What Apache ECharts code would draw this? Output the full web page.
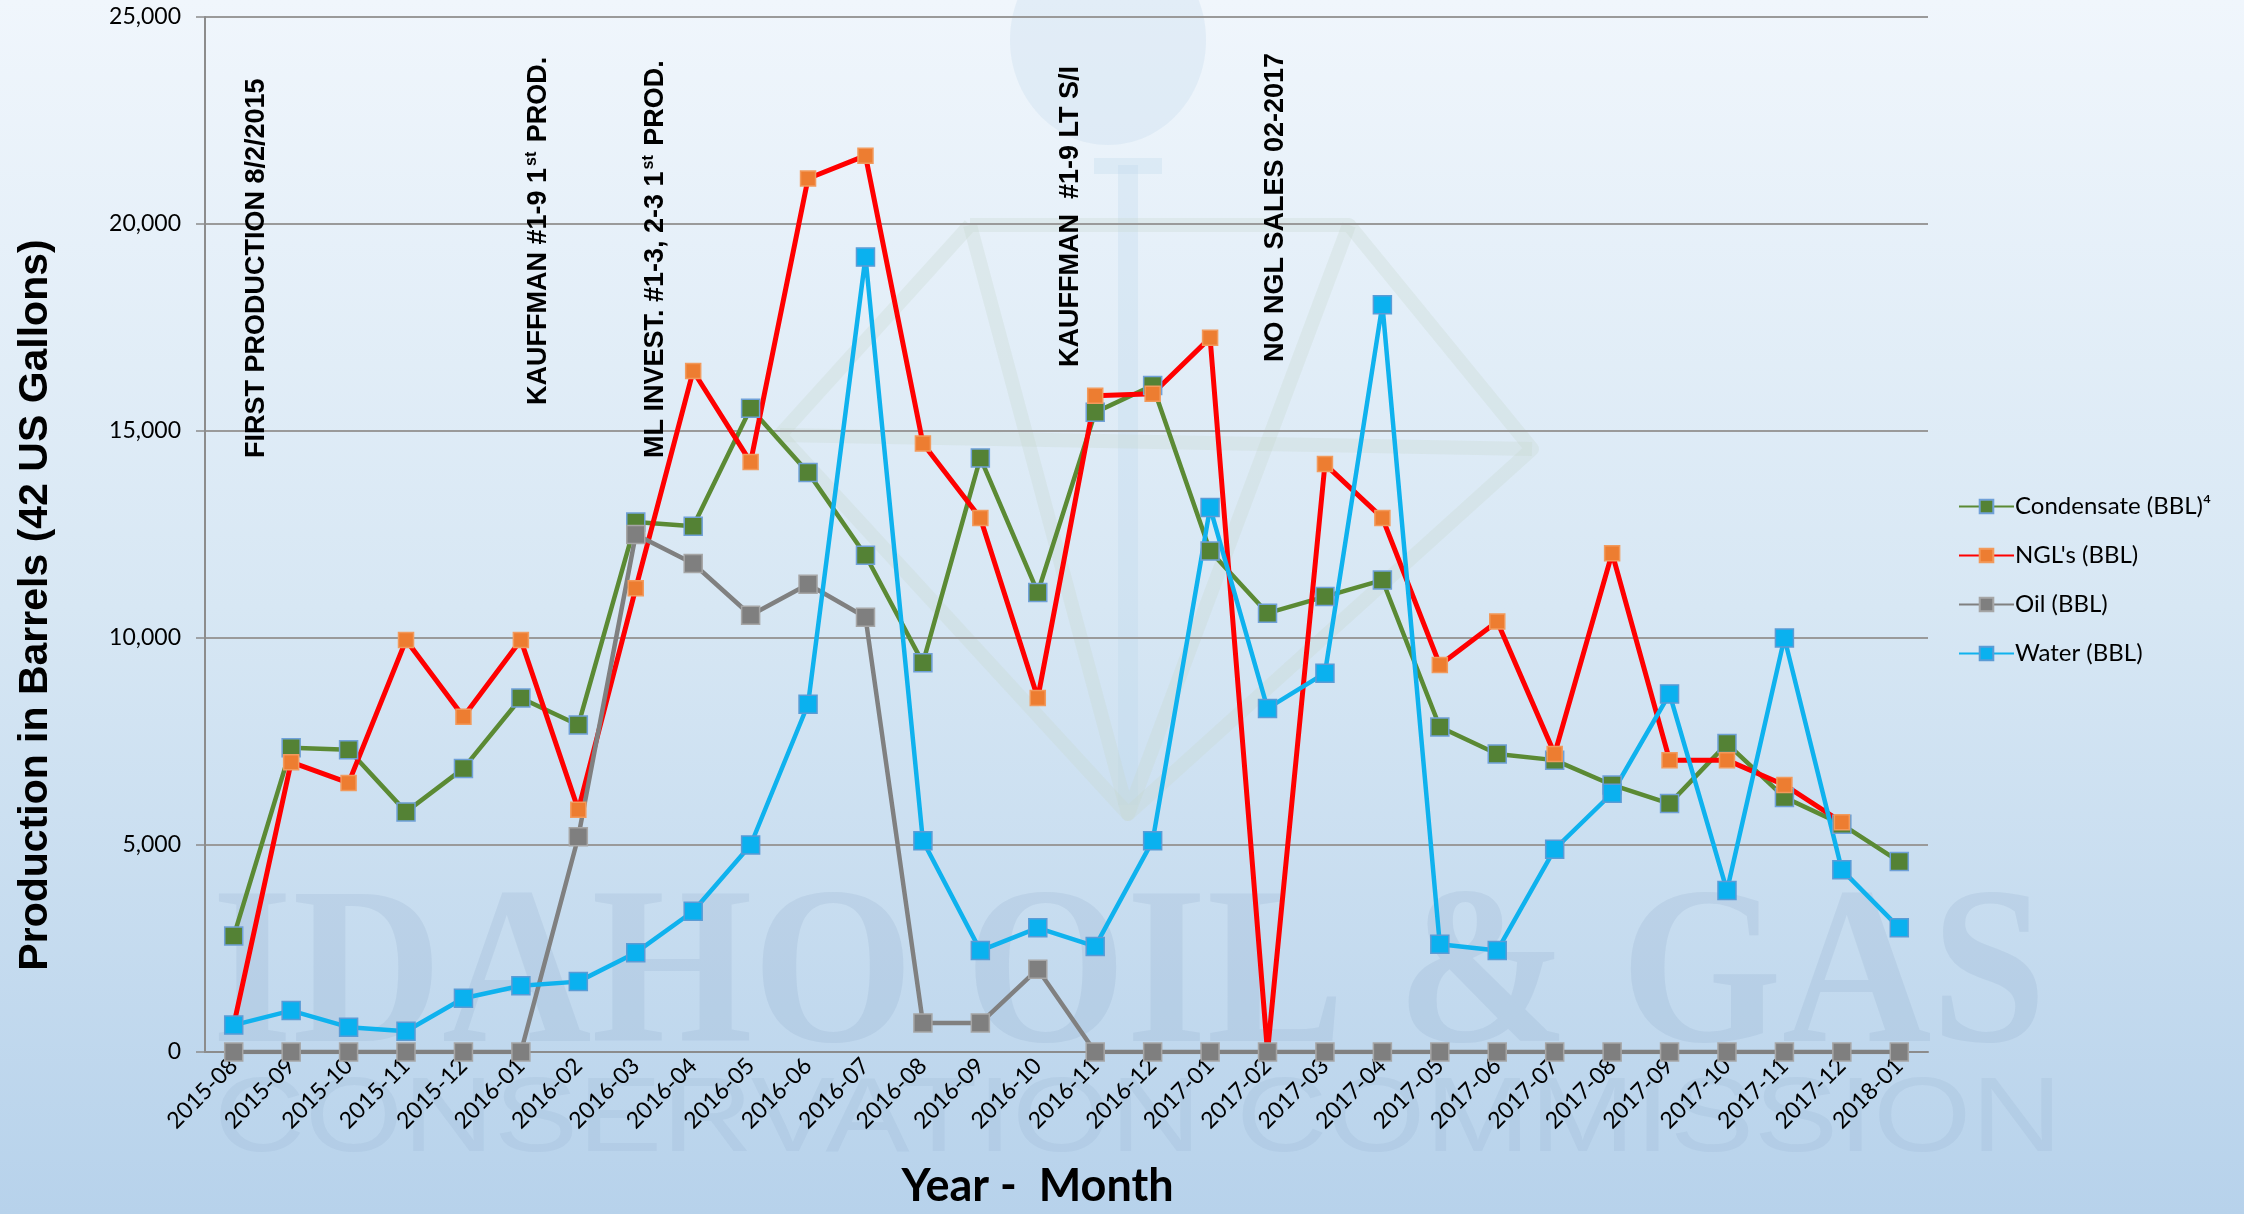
<!DOCTYPE html>
<html>
<head>
<meta charset="utf-8">
<script src="https://cdn.jsdelivr.net/npm/echarts@6/dist/echarts.min.js"></script>
<style>
  html, body { margin: 0; padding: 0; }
  #chart { width: 2244px; height: 1214px; }
</style>
</head>
<body>
<div id="chart"></div>
<script>
const categories = [
  '2015-08', '2015-09', '2015-10', '2015-11', '2015-12',
  '2016-01', '2016-02', '2016-03', '2016-04', '2016-05', '2016-06',
  '2016-07', '2016-08', '2016-09', '2016-10', '2016-11', '2016-12',
  '2017-01', '2017-02', '2017-03', '2017-04', '2017-05', '2017-06',
  '2017-07', '2017-08', '2017-09', '2017-10', '2017-11', '2017-12',
  '2018-01'
]
const condensate = [2800, 7350, 7300, 5800, 6850, 8550, 7900, 12800, 12700, 15550, 14000,
  12000, 9400, 14350, 11100, 15450, 16100, 12100, 10600, 11000, 11400, 7850, 7200,
  7050, 6450, 6000, 7450, 6150, 5500, 4600]
const ngl = [650, 7000, 6500, 9950, 8100, 9950, 5850, 11200, 16450, 14250, 21100,
  21650, 14700, 12900, 8550, 15850, 15900, 17250, 0, 14200, 12900, 9350, 10400,
  7200, 12050, 7050, 7050, 6450, 5550, null]
const oil = [0, 0, 0, 0, 0, 0, 5200, 12500, 11800, 10550, 11300,
  10500, 700, 700, 2000, 0, 0, 0, 0, 0, 0, 0, 0,
  0, 0, 0, 0, 0, 0, 0]
const water = [650, 1000, 600, 500, 1300, 1600, 1700, 2400, 3400, 5000, 8400,
  19200, 5100, 2450, 3000, 2550, 5100, 13150, 8300, 9150, 18050, 2600, 2450,
  4900, 6250, 8650, 3900, 10000, 4400, 3000]
const seriesNames = ['Condensate (BBL)⁴', "NGL's (BBL)", 'Oil (BBL)', 'Water (BBL)']

const labelFont = 'Lato, "Open Sans", sans-serif'
const boldFont = '"Liberation Sans", Arial, sans-serif'
const logoStroke = 'rgba(200,216,206,0.3)'

const chart = echarts.init(document.getElementById('chart'))

// vertical event notes
function note(x, y, text) {
  return {
    type: 'text',
    x: x,
    y: y,
    rotation: Math.PI / 2,
    z: 100,
    silent: true,
    style: {
      text: text,
      fill: '#000',
      font: 'bold 27px ' + boldFont,
      align: 'left',
      verticalAlign: 'middle',
      rich: {
        sup: { fontSize: 16, fontWeight: 'bold', fontFamily: boldFont, verticalAlign: 'top', lineHeight: 30, padding: [0, 2, 12, 2] }
      }
    }
  }
}

function marker(fill, border) {
  return { color: fill, borderColor: border, borderWidth: 1.5 }
}

function logoLine(points) {
  return {
    type: 'polyline', z: -95, silent: true,
    shape: { points: points },
    style: { stroke: logoStroke, lineWidth: 14, fill: null, lineJoin: 'round' }
  }
}

const option = {
  animation: false,
  grid: { left: 205, right: 316, top: 17, bottom: 154 },
  legend: {
    orient: 'vertical',
    left: 1953,
    top: 488,
    itemWidth: 55,
    itemHeight: 17,
    itemGap: 22,
    textStyle: { fontFamily: labelFont, fontSize: 24, color: '#000', lineHeight: 27, padding: [0, 0, 0, -4] },
    data: seriesNames
  },
  xAxis: {
    type: 'category',
    data: categories,
    name: 'Year -  Month',
    nameLocation: 'middle',
    nameGap: 112,
    nameTextStyle: { fontFamily: labelFont, fontWeight: 'bold', fontSize: 45, color: '#000', padding: [0, 58, 0, 0] },
    axisLine: { lineStyle: { color: '#8c8c8c', width: 2 } },
    axisTick: { length: 9, lineStyle: { color: '#8c8c8c', width: 1.5 } },
    axisLabel: { rotate: 45, fontFamily: labelFont, fontSize: 23, color: '#000', margin: 10, interval: 0 }
  },
  yAxis: {
    type: 'value',
    min: 0,
    max: 25000,
    interval: 5000,
    axisLine: { show: true, lineStyle: { color: '#8c8c8c', width: 2 } },
    axisTick: { show: true, length: 9, lineStyle: { color: '#8c8c8c', width: 1.5 } },
    axisLabel: {
      fontFamily: labelFont, fontSize: 23, color: '#000', margin: 24,
      formatter: v => v.toLocaleString('en-US')
    },
    splitLine: { lineStyle: { color: '#9a9a9a', width: 2 } }
  },
  series: [
    {
      name: seriesNames[0], type: 'line', data: condensate,
      symbol: 'rect', symbolSize: 18,
      lineStyle: { color: '#5b8a34', width: 4.5 },
      itemStyle: marker('#548235', '#6fa0d8')
    },
    {
      name: seriesNames[1], type: 'line', data: ngl,
      symbol: 'rect', symbolSize: 15,
      lineStyle: { color: '#ff0000', width: 5 },
      itemStyle: marker('#ed7d31', '#f29a5c')
    },
    {
      name: seriesNames[2], type: 'line', data: oil,
      symbol: 'rect', symbolSize: 18,
      lineStyle: { color: '#808080', width: 4.5 },
      itemStyle: marker('#7f7f7f', '#a6a6a6')
    },
    {
      name: seriesNames[3], type: 'line', data: water,
      symbol: 'rect', symbolSize: 18,
      lineStyle: { color: '#0fb2ee', width: 4.5 },
      itemStyle: marker('#0ab1ef', '#5b9bd5')
    }
  ],
  graphic: [
    {
      type: 'rect', z: -100, silent: true,
      shape: { x: 0, y: 0, width: 2244, height: 1214 },
      style: {
        fill: new echarts.graphic.LinearGradient(0, 0, 0, 1, [
          { offset: 0, color: '#f0f6fc' },
          { offset: 0.5, color: '#d7e7f4' },
          { offset: 1, color: '#b7d2eb' }
        ])
      }
    },
    // faint commission logo behind the plot
    {
      type: 'ellipse', z: -95, silent: true,
      shape: { cx: 1108, cy: 40, rx: 98, ry: 105 },
      style: { fill: 'rgba(200,222,238,0.35)' }
    },
    {
      type: 'rect', z: -95, silent: true,
      shape: { x: 1118, y: 165, width: 20, height: 640 },
      style: { fill: 'rgba(190,215,236,0.3)' }
    },
    {
      type: 'rect', z: -95, silent: true,
      shape: { x: 1094, y: 158, width: 68, height: 16 },
      style: { fill: 'rgba(190,215,236,0.3)' }
    },
    logoLine([[970, 225], [1349, 225], [1532, 449], [1128, 814], [780, 435], [970, 225]]),
    logoLine([[780, 435], [1532, 449]]),
    logoLine([[970, 225], [1128, 814], [1349, 225]]),
    {
      type: 'text', z: -90, silent: true, x: 212, y: 983, scaleX: 0.92,
      style: { text: 'IDAHO OIL & GAS', font: 'bold 225px "Liberation Serif", serif', fill: 'rgba(110,140,175,0.13)', verticalAlign: 'middle' }
    },
    {
      type: 'text', z: -90, silent: true, x: 214, y: 1122, scaleX: 1.05, scaleY: 0.88,
      style: { text: 'CONSERVATION COMMISSION', font: '120px "Liberation Sans", sans-serif', fill: 'rgba(110,140,175,0.10)', verticalAlign: 'middle' }
    },
    {
      type: 'text', x: 36, y: 605, rotation: Math.PI / 2, z: 100, silent: true,
      style: {
        text: 'Production in Barrels (42 US Gallons)',
        font: 'bold 41px ' + boldFont, fill: '#000', align: 'center', verticalAlign: 'middle'
      }
    },
    note(257, 458, 'FIRST PRODUCTION 8/2/2015'),
    note(539, 405, 'KAUFFMAN #1-9 1{sup|st} PROD.'),
    note(656, 458, 'ML INVEST. #1-3, 2-3 1{sup|st} PROD.'),
    note(1071, 367, 'KAUFFMAN  #1-9 LT S/I'),
    note(1276, 362, 'NO NGL SALES 02-2017')
  ]
}
chart.setOption(option)
</script>
</body>
</html>
